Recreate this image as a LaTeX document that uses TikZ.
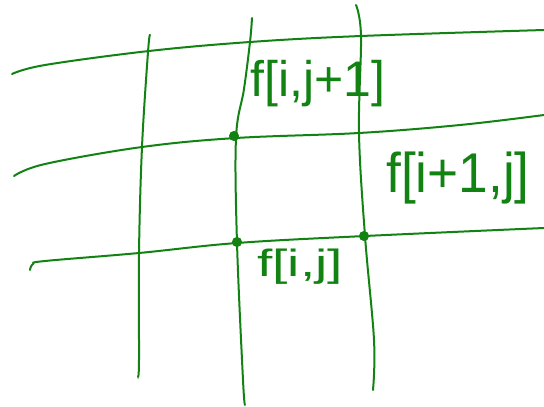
\documentclass[tikz,border=0pt]{standalone}
\usepackage{fontspec}
\setmainfont{Liberation Sans}
\definecolor{pen}{RGB}{18,130,18}
\begin{document}
\begin{tikzpicture}[x=1pt,y=-1pt,
  gridline/.style={pen,line width=2pt,line cap=round},
  dotmark/.style={circle,fill=pen,draw=pen,line width=1pt,inner sep=0pt,minimum size=9pt},
  lbl/.style={text=pen,inner sep=0pt}]
\useasboundingbox (0,0) rectangle (544,407);
% horizontal lines
\draw[gridline] plot[smooth,tension=0.6] coordinates {(12,74) (45,65) (149,51) (250,42) (361,36) (544,30)};
\draw[gridline] plot[smooth,tension=0.6] coordinates {(14,176) (45,164) (142,147) (236,138) (359,133) (460,125) (544,115)};
\draw[gridline] plot[smooth,tension=0.6] coordinates {(30,270) (33,264) (45,261) (139,253) (237,243) (365,236) (544,228)};
% vertical lines
\draw[gridline] plot[smooth,tension=0.6] coordinates {(150,35) (148,52) (142,147) (139,253) (139,360) (138,376)};
\draw[gridline] plot[smooth,tension=0.6] coordinates {(252,18) (250,42) (244,89) (236,138) (237,243) (243,380) (245,405)};
\draw[gridline] plot[smooth,tension=0.6] coordinates {(356,5) (361,36) (359,133) (365,236) (374,340) (373,390)};
% dots
\node[dotmark] (d1) at (234,136) {};
\node[dotmark] (d2) at (237,242) {};
\node[dotmark] (d3) at (364,236) {};
% labels
\node[lbl,font=\fontsize{50}{50}\selectfont] (l1) at (318,84) {f[i,j+1]};
\node[lbl,font=\fontsize{56}{56}\selectfont,xscale=0.95] (l2) at (458,178) {f[i+1,j]};
\node[lbl,font=\fontsize{38}{38}\selectfont,xscale=1.45] (l3) at (300,267) {f[i,j]};
\end{tikzpicture}
\end{document}
